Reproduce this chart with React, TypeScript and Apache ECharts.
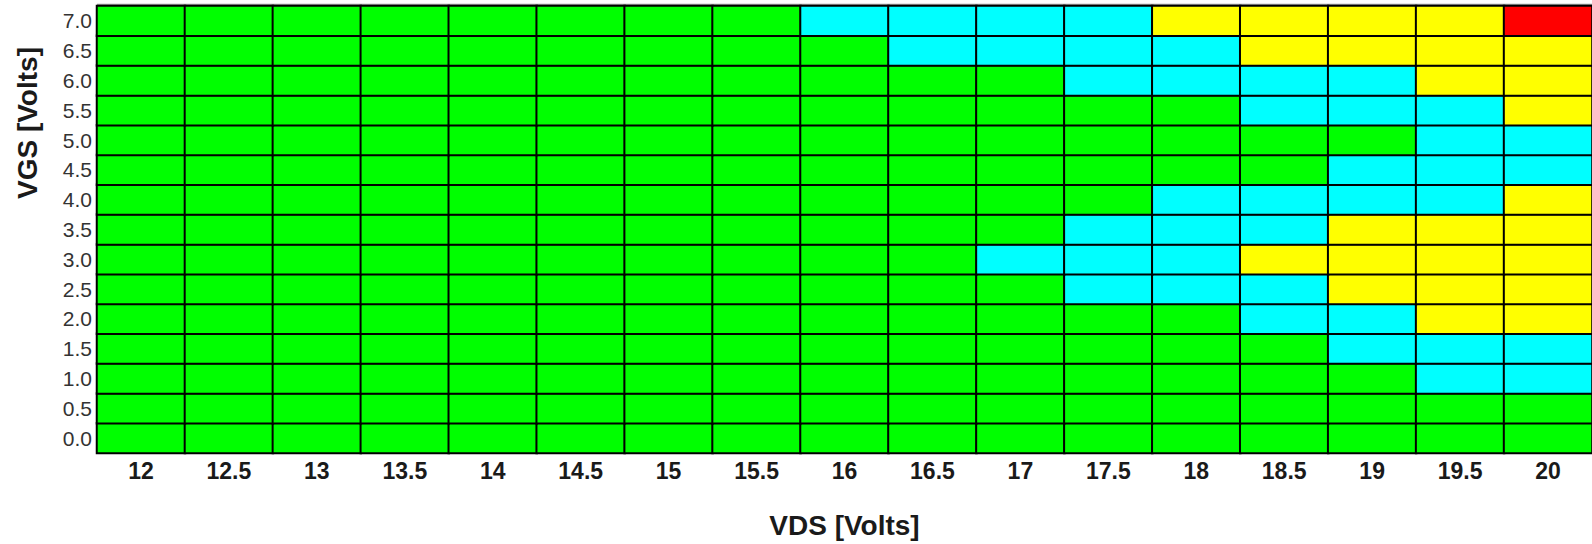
import React, { useEffect, useRef } from "react";
import * as echarts from "echarts";

const vdsLabels = ["12", "12.5", "13", "13.5", "14", "14.5", "15", "15.5", "16", "16.5", "17", "17.5", "18", "18.5", "19", "19.5", "20"];
const vgsLabels = ["0.0", "0.5", "1.0", "1.5", "2.0", "2.5", "3.0", "3.5", "4.0", "4.5", "5.0", "5.5", "6.0", "6.5", "7.0"];

// level codes: 0 = green, 1 = cyan, 2 = yellow, 3 = red
const row00 = [0, 0, 0, 0, 0, 0, 0, 0, 0, 0, 0, 0, 0, 0, 0, 0, 0];
const row05 = [0, 0, 0, 0, 0, 0, 0, 0, 0, 0, 0, 0, 0, 0, 0, 0, 0];
const row10 = [0, 0, 0, 0, 0, 0, 0, 0, 0, 0, 0, 0, 0, 0, 0, 1, 1];
const row15 = [0, 0, 0, 0, 0, 0, 0, 0, 0, 0, 0, 0, 0, 0, 1, 1, 1];
const row20 = [0, 0, 0, 0, 0, 0, 0, 0, 0, 0, 0, 0, 0, 1, 1, 2, 2];
const row25 = [0, 0, 0, 0, 0, 0, 0, 0, 0, 0, 0, 1, 1, 1, 2, 2, 2];
const row30 = [0, 0, 0, 0, 0, 0, 0, 0, 0, 0, 1, 1, 1, 2, 2, 2, 2];
const row35 = [0, 0, 0, 0, 0, 0, 0, 0, 0, 0, 0, 1, 1, 1, 2, 2, 2];
const row40 = [0, 0, 0, 0, 0, 0, 0, 0, 0, 0, 0, 0, 1, 1, 1, 1, 2];
const row45 = [0, 0, 0, 0, 0, 0, 0, 0, 0, 0, 0, 0, 0, 0, 1, 1, 1];
const row50 = [0, 0, 0, 0, 0, 0, 0, 0, 0, 0, 0, 0, 0, 0, 0, 1, 1];
const row55 = [0, 0, 0, 0, 0, 0, 0, 0, 0, 0, 0, 0, 0, 1, 1, 1, 2];
const row60 = [0, 0, 0, 0, 0, 0, 0, 0, 0, 0, 0, 1, 1, 1, 1, 2, 2];
const row65 = [0, 0, 0, 0, 0, 0, 0, 0, 0, 1, 1, 1, 1, 2, 2, 2, 2];
const row70 = [0, 0, 0, 0, 0, 0, 0, 0, 1, 1, 1, 1, 2, 2, 2, 2, 3];

const rowsBottomUp = [row00, row05, row10, row15, row20, row25, row30, row35, row40, row45, row50, row55, row60, row65, row70];

const levelColors = ["#00ff00", "#00ffff", "#ffff00", "#ff0000"];

export default function App() {
  const ref = useRef<HTMLDivElement>(null);

  useEffect(() => {
    if (!ref.current) return;
    const chart = echarts.init(ref.current, undefined, { renderer: "svg" });
    const data: number[][] = [];
    rowsBottomUp.forEach((row, yi) => {
      row.forEach((v, xi) => data.push([xi, yi, v]));
    });
    chart.setOption({
      animation: false,
      grid: { left: 97, top: 6, width: 1496, height: 452, containLabel: false },
      xAxis: {
        type: "category",
        data: vdsLabels,
        position: "bottom",
        axisLine: { show: false },
        axisTick: { show: false },
        splitLine: { show: false },
        axisLabel: {
          interval: 0,
          margin: 6,
          fontFamily: "'Liberation Sans', Arial, sans-serif",
          fontWeight: "bold",
          fontSize: 23,
          color: "#1a1a1a",
        },
        name: "VDS [Volts]",
        nameLocation: "middle",
        nameGap: 58,
        nameTextStyle: {
          fontFamily: "'Liberation Sans', Arial, sans-serif",
          fontWeight: "bold",
          fontSize: 28,
          color: "#1a1a1a",
        },
      },
      yAxis: {
        type: "category",
        data: vgsLabels,
        axisLine: { show: false },
        axisTick: { show: false },
        splitLine: { show: false },
        axisLabel: {
          interval: 0,
          margin: 5,
          fontFamily: "'Liberation Sans', Arial, sans-serif",
          fontSize: 21,
          color: "#333333",
        },
      },
      visualMap: {
        show: false,
        type: "piecewise",
        dimension: 2,
        pieces: [
          { value: 0, color: levelColors[0] },
          { value: 1, color: levelColors[1] },
          { value: 2, color: levelColors[2] },
          { value: 3, color: levelColors[3] },
        ],
      },
      graphic: [
        {
          type: "line",
          shape: { x1: 97, y1: 4.5, x2: 1592, y2: 4.5 },
          style: { stroke: "#9a9a9a", lineWidth: 1.5 },
        },
        {
          type: "text",
          x: 27,
          y: 123,
          rotation: Math.PI / 2,
          style: {
            text: "VGS [Volts]",
            fontFamily: "'Liberation Sans', Arial, sans-serif",
            fontWeight: "bold",
            fontSize: 28,
            fill: "#1a1a1a",
            align: "center",
            verticalAlign: "middle",
          },
        },
      ],
      series: [
        {
          type: "heatmap",
          data,
          itemStyle: { borderColor: "#000000", borderWidth: 2 },
          emphasis: { disabled: true },
        },
      ],
    });
    return () => chart.dispose();
  }, []);

  return (
    <div
      ref={ref}
      style={{ position: "fixed", left: 0, top: 0, width: 1592, height: 544, background: "#ffffff" }}
    />
  );
}
